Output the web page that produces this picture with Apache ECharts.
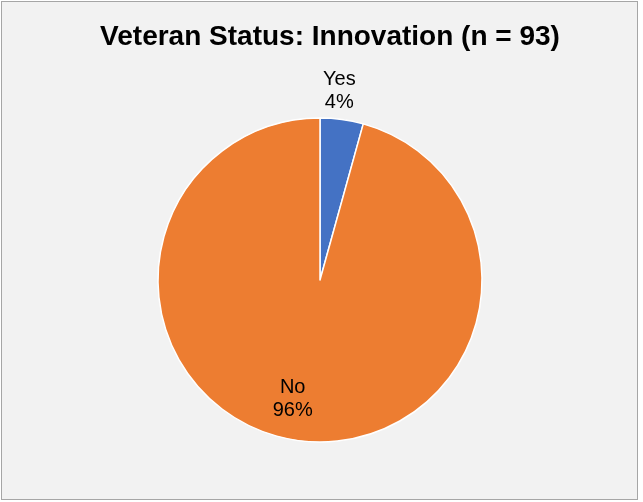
<!DOCTYPE html>
<html>
<head>
<meta charset="utf-8">
<script src="https://cdn.jsdelivr.net/npm/echarts@6/dist/echarts.min.js"></script>
<style>
html,body{margin:0;padding:0;background:#ffffff;}
#frame{position:absolute;left:1px;top:1px;width:635px;height:497px;border:1px solid #a6a6a6;background:#f2f2f2;}
#chart{position:absolute;left:-2px;top:-2px;width:643px;height:502px;}
</style>
</head>
<body>
<div id="frame"><div id="chart"></div></div>
<script>
const title = 'Veteran Status: Innovation (n = 93)';
const categories = ['Yes', 'No'];
const counts = [4, 89];
const colors = ['#4472c4', '#ed7d31'];
const labelOffsets = [[8, -106], [-16, 36]];

const chart = echarts.init(document.getElementById('chart'), null, {renderer: 'canvas'});
chart.setOption({
  backgroundColor: 'transparent',
  animation: false,
  title: {
    text: title,
    left: 325,
    textAlign: 'center',
    top: 18,
    textStyle: {fontFamily: 'Liberation Sans, Arial, sans-serif', fontWeight: 'bold', fontSize: 28, color: '#000000'}
  },
  series: [{
    type: 'pie',
    center: [320, 280],
    radius: 162,
    startAngle: 90,
    clockwise: true,
    percentPrecision: 0,
    labelLine: {show: false},
    data: categories.map((c, i) => ({
      name: c,
      value: counts[i],
      itemStyle: {color: colors[i], borderColor: '#ffffff', borderWidth: 1.5},
      label: {
        show: true,
        position: 'inside',
        offset: labelOffsets[i],
        formatter: '{b}\n{d}%',
        fontFamily: 'Liberation Sans, Arial, sans-serif',
        fontSize: 20,
        lineHeight: 23,
        color: '#000000',
        align: 'center'
      }
    }))
  }]
});
</script>
</body>
</html>
